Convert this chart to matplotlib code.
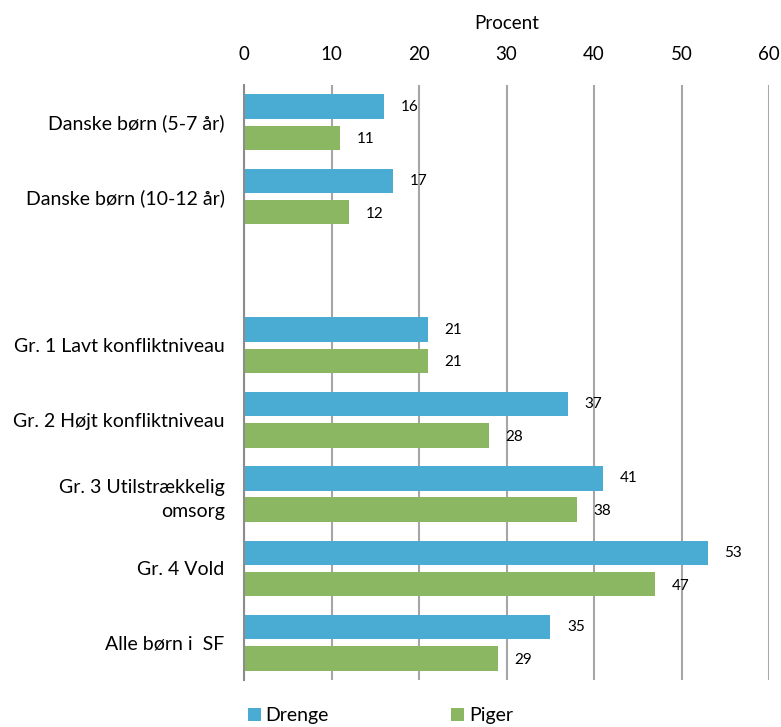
import numpy as np
import matplotlib
matplotlib.use("Agg")
import matplotlib.pyplot as plt
from matplotlib.patches import Patch

plt.rcParams["font.family"] = ["Lato", "DejaVu Sans"]

categories = ["Danske børn (5-7 år)", "Danske børn (10-12 år)", "",
              "Gr. 1 Lavt konfliktniveau", "Gr. 2 Højt konfliktniveau",
              "Gr. 3 Utilstrækkelig\nomsorg", "Gr. 4 Vold", "Alle børn i  SF"]
drenge = [16, 17, None, 21, 37, 41, 53, 35]
piger = [11, 12, None, 21, 28, 38, 47, 29]
xticks = [0, 10, 20, 30, 40, 50, 60]

BLUE, GREEN, GRID = "#4BACD3", "#8CB762", "#A6A6A6"

fig = plt.figure(figsize=(7.81, 7.27), dpi=100)
ax = fig.add_axes([244 / 781, 1 - 680 / 727, (769 - 244) / 781, (680 - 85) / 727])

y = np.arange(len(categories))
h, off = 0.33, 0.21
for i, (d, p) in enumerate(zip(drenge, piger)):
    if d is None:
        continue
    ax.barh(i - off, d, height=h, color=BLUE, edgecolor="none", zorder=3)
    ax.barh(i + off, p, height=h, color=GREEN, edgecolor="none", zorder=3)
    ax.text(d + 1.9, i - off, f"{d}", va="center", ha="left", fontsize=11, color="black")
    ax.text(p + 1.9, i + off + 0.02, f"{p}", va="center", ha="left", fontsize=11, color="black")

ax.set_xlim(0, 60)
ax.set_ylim(len(categories) - 0.5, -0.5)
ax.set_xticks(xticks)
ax.xaxis.tick_top()
ax.xaxis.set_label_position("top")
ax.set_xlabel("Procent", fontsize=13.5, labelpad=12)
ax.tick_params(axis="x", length=0, labelsize=13.5, pad=16)
ax.set_yticks(y)
ax.set_yticklabels(categories, fontsize=14, linespacing=1.5)
ax.tick_params(axis="y", length=0, pad=14)
ax.grid(axis="x", color=GRID, lw=1.5, zorder=0)
for s in ["top", "right", "bottom"]:
    ax.spines[s].set_visible(False)
ax.spines["left"].set_color("#8C8C8C")
ax.spines["left"].set_linewidth(1.5)
ax.spines["left"].set_zorder(4)

handles = [Patch(facecolor=BLUE, edgecolor="none", label="Drenge"),
           Patch(facecolor=GREEN, edgecolor="none", label="Piger")]
fig.legend(handles=handles, loc="center left", bbox_to_anchor=(248 / 781, 1 - 716 / 727),
           ncol=2, frameon=False, fontsize=14, handlelength=0.65, handleheight=0.65,
           handletextpad=0.25, columnspacing=6.3, borderaxespad=0, borderpad=0)

fig.savefig("out.png", dpi=100)
